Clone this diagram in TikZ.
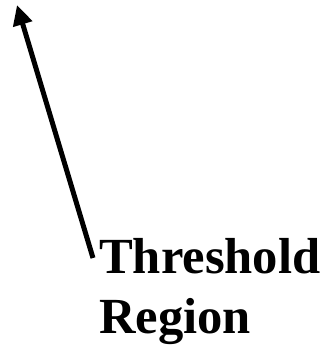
\documentclass[tikz,border=0pt]{standalone}
\usepackage{fontspec}
\setmainfont{Liberation Serif}
\usetikzlibrary{arrows.meta}
\tikzset{lbl/.style={inner sep=0pt, anchor=base west, font=\bfseries\fontsize{50.6}{50.6}\selectfont},
  pointer/.style={line width=5pt, -{Triangle[length=20pt,width=19pt]}}}
\begin{document}
\begin{tikzpicture}[x=1pt,y=1pt]
\useasboundingbox (0,0) rectangle (332,348);
\node[lbl] (t1) at (99,74) {Threshold};
\node[lbl] (t2) at (99,14) {Region};
\coordinate (tail) at (93,90);
\coordinate (tip) at (17,343);
\draw[pointer] (tail) -- (tip);
\end{tikzpicture}
\end{document}
